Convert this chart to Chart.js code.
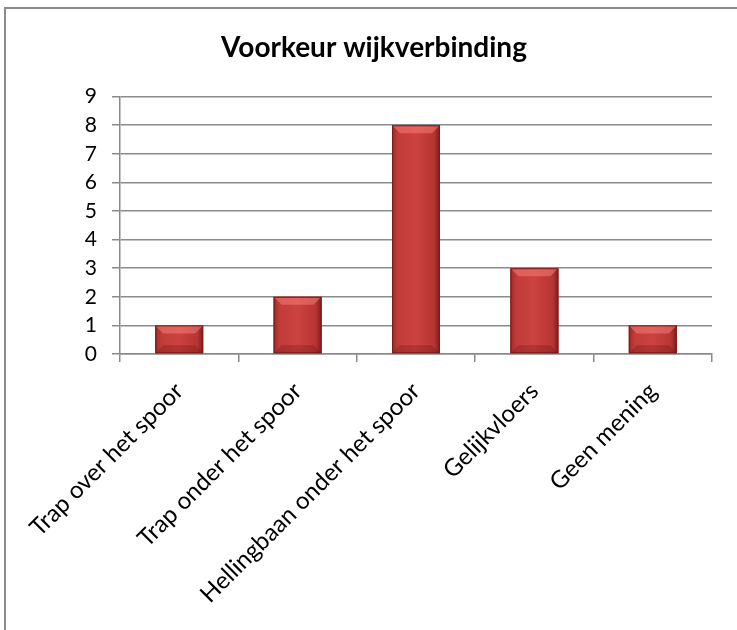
<!DOCTYPE html>
<html>
<head>
<meta charset="utf-8">
<script src="https://cdn.jsdelivr.net/npm/chart.js@4.4.0/dist/chart.umd.min.js"></script>
<style>
  html, body { margin: 0; padding: 0; background: #fff; }
  #wrap { position: relative; width: 737px; height: 630px; overflow: hidden; }
  #frame { position: absolute; left: 4px; top: 7px; width: 800px; height: 800px;
           border: 2px solid #8a8a8a; pointer-events: none; }
</style>
</head>
<body>
<div id="wrap">
  <canvas id="chartOne" width="737" height="630"></canvas>
  <div id="frame"></div>
</div>
<script>
const titleText = "Voorkeur wijkverbinding";
const categories = [
  "Trap over het spoor",
  "Trap onder het spoor",
  "Hellingbaan onder het spoor",
  "Gelijkvloers",
  "Geen mening"
];
const counts = [1, 2, 8, 3, 1];
const yTicks = [0, 1, 2, 3, 4, 5, 6, 7, 8, 9];

// shade bars a bit like the office bevel look
const bevelBars = {
  id: "bevelBars",
  afterDatasetsDraw(chart) {
    const ctx = chart.ctx;
    chart.getDatasetMeta(0).data.forEach((bar) => {
      const { x, y, base, width } = bar.getProps(["x", "y", "base", "width"], true);
      const l = x - width / 2, r = x + width / 2, h = base - y;
      const g = ctx.createLinearGradient(l, 0, r, 0);
      g.addColorStop(0, "#9a2a27");
      g.addColorStop(0.12, "#c13c38");
      g.addColorStop(0.5, "#cc4240");
      g.addColorStop(0.88, "#b63533");
      g.addColorStop(1, "#7e1e1c");
      ctx.save();
      ctx.fillStyle = g;
      ctx.fillRect(l, y, width, h);
      const bv = Math.min(8, h / 3);
      ctx.fillStyle = "rgba(255,140,130,0.45)";
      ctx.beginPath();
      ctx.moveTo(l, y); ctx.lineTo(r, y); ctx.lineTo(r - bv, y + bv); ctx.lineTo(l + bv, y + bv);
      ctx.closePath(); ctx.fill();
      ctx.fillStyle = "rgba(90,10,10,0.25)";
      ctx.beginPath();
      ctx.moveTo(l, base); ctx.lineTo(r, base); ctx.lineTo(r - bv, base - bv); ctx.lineTo(l + bv, base - bv);
      ctx.closePath(); ctx.fill();
      ctx.strokeStyle = "#7a1b1a";
      ctx.lineWidth = 1;
      ctx.strokeRect(l + 0.5, y + 0.5, width - 1, h - 1);
      ctx.restore();
    });
  }
};

new Chart(document.getElementById("chartOne"), {
  type: "bar",
  data: {
    labels: categories,
    datasets: [
      {
        label: "Aantal",
        data: counts,
        backgroundColor: "#c43c3a",
        categoryPercentage: 0.81,
        barPercentage: 0.5
      }
    ]
  },
  options: {
    responsive: false,
    animation: false,
    layout: { padding: { left: 36, right: 25, top: 0, bottom: 0 } },
    plugins: {
      legend: { display: false },
      tooltip: { enabled: false },
      title: {
        display: true,
        text: titleText,
        color: "#000",
        font: { family: "Lato", size: 28, weight: "bold", lineHeight: 1.2 },
        padding: { top: 31, bottom: 32 }
      }
    },
    scales: {
      x: {
        afterFit: (s) => { s.height = 276; },
        grid: { drawOnChartArea: false, color: "#8a8a8a", lineWidth: 1.5, tickLength: 8 },
        border: { color: "#8a8a8a", width: 1.5 },
        ticks: {
          color: "#000",
          minRotation: 45,
          maxRotation: 45,
          padding: 15,
          font: { family: "Lato", size: 24 }
        }
      },
      y: {
        min: 0,
        max: 9,
        afterFit: (s) => { s.width = 84; },
        afterBuildTicks: (s) => { s.ticks = yTicks.map((v) => ({ value: v })); },
        grid: { color: "#8a8a8a", lineWidth: 1.5, tickLength: 8 },
        border: { color: "#8a8a8a", width: 1.5 },
        ticks: {
          color: "#000",
          padding: 15,
          font: { family: "Lato", size: 21 }
        }
      }
    }
  },
  plugins: [bevelBars]
});
</script>
</body>
</html>
